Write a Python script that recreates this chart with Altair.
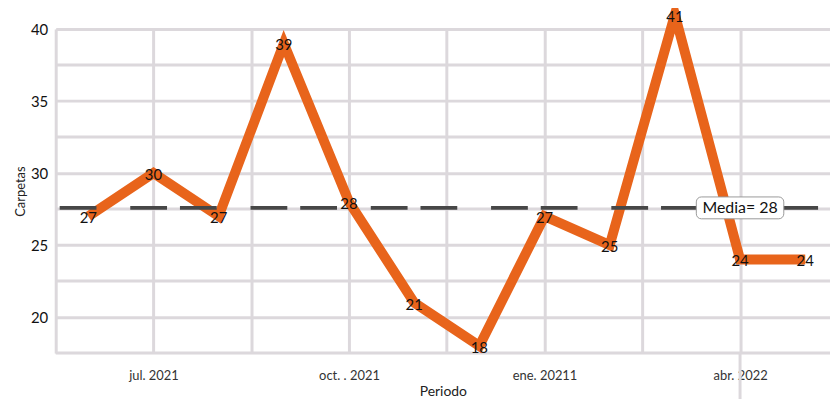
import altair as alt
import pandas as pd

periods = ["2021-06", "2021-07", "2021-08", "2021-09", "2021-10", "2021-11",
           "2021-12", "2022-01", "2022-02", "2022-03", "2022-04", "2022-05"]
values = [27, 30, 27, 39, 28, 21, 18, 27, 25, 41, 24, 24]
tick_pos = [1, 4, 7, 10]
tick_labels = ["jul. 2021", "oct. . 2021", "ene. 20211", "abr. 2022"]
grid_x = [-0.5, 1, 2.5, 4, 5.5, 7, 8.5, 10]
y_major = [20, 25, 30, 35, 40]
y_minor = [17.5, 22.5, 27.5, 32.5, 37.5]
mean_label_pos = 10

df = pd.DataFrame({"periodo": periods, "idx": list(range(len(values))), "carpetas": values})
minor_df = pd.DataFrame({"carpetas": y_minor})

W, H = 779, 326
FONT = "Lato"
GRID = "#dcd8dc"
ORANGE = "#E8641B"

x_expr = " : ".join(f"datum.value == {p} ? '{l}'" for p, l in zip(tick_pos, tick_labels)) + " : ''"

x_scale = alt.Scale(domain=[-0.5, 11.38], nice=False, zero=False)
y_scale = alt.Scale(domain=[17.5, 40], nice=False, zero=False)

x_enc = alt.X("idx:Q", scale=x_scale,
              axis=alt.Axis(values=grid_x, labelExpr=x_expr, title="Periodo",
                            grid=True, gridColor=GRID, gridWidth=3, ticks=False, domain=False,
                            labelOverlap=False, labelFlush=False, labelPadding=17,
                            labelFontSize=13, labelColor="#333333", labelFont=FONT,
                            titleFont=FONT, titleFontSize=14, titleFontWeight="normal",
                            titleColor="#222222", titlePadding=2))
y_enc = alt.Y("carpetas:Q", scale=y_scale,
              axis=alt.Axis(values=y_major, format="d",
                            title="Carpetas", grid=True, gridColor=GRID, gridWidth=3,
                            ticks=False, domain=False, labelOverlap=False, labelFlush=False,
                            labelPadding=8, labelFontSize=15, labelColor="#111111", labelFont=FONT,
                            titleFont=FONT, titleFontSize=13, titleFontWeight="normal",
                            titleColor="#222222", titlePadding=3))

base = alt.Chart(df)

minor = alt.Chart(minor_df).mark_rule(color=GRID, strokeWidth=3).encode(
    y=y_enc, x=alt.value(0), x2=alt.value(W))

line = base.mark_line(color=ORANGE, strokeWidth=10, clip=False).encode(x=x_enc, y=y_enc)

ext = base.transform_filter(f"datum.idx == {mean_label_pos}").mark_rule(
    color=GRID, strokeWidth=3, clip=False).encode(
    x="idx:Q", y=alt.value(H), y2=alt.value(H + 60))

mean_base = base.transform_aggregate(carpetas="mean(carpetas)")

mean_rule = mean_base.mark_rule(
    color="#474747", strokeWidth=4, strokeDash=[37, 13, 37, 34], strokeDashOffset=46).encode(
    y="carpetas:Q", x=alt.value(0), x2=alt.value(W))

labels = base.mark_text(font=FONT, fontSize=15, color="#111111", dy=2, clip=False).encode(
    x="idx:Q", y="carpetas:Q", text="carpetas:Q")

box = mean_base.transform_calculate(idx=str(mean_label_pos)).mark_rect(
    width=88, height=22, cornerRadius=5, fill="white", stroke="#999999", strokeWidth=1).encode(
    x="idx:Q", y="carpetas:Q")

box_text = mean_base.transform_calculate(
    idx=str(mean_label_pos),
    txt="'Media= ' + format(datum.carpetas, '.0f')").mark_text(
    font=FONT, fontSize=16, color="#111111").encode(
    x="idx:Q", y="carpetas:Q", text="txt:N")

chart = alt.layer(minor, ext, line, mean_rule, labels, box, box_text).properties(
    width=W, height=H,
    autosize=alt.AutoSizeParams(type="none"),
    padding={"left": 48, "top": 20, "right": 0, "bottom": 45},
).configure_view(stroke=None).configure(background="white")

chart.save("out.html", embed_options={"renderer": "svg", "actions": False})
